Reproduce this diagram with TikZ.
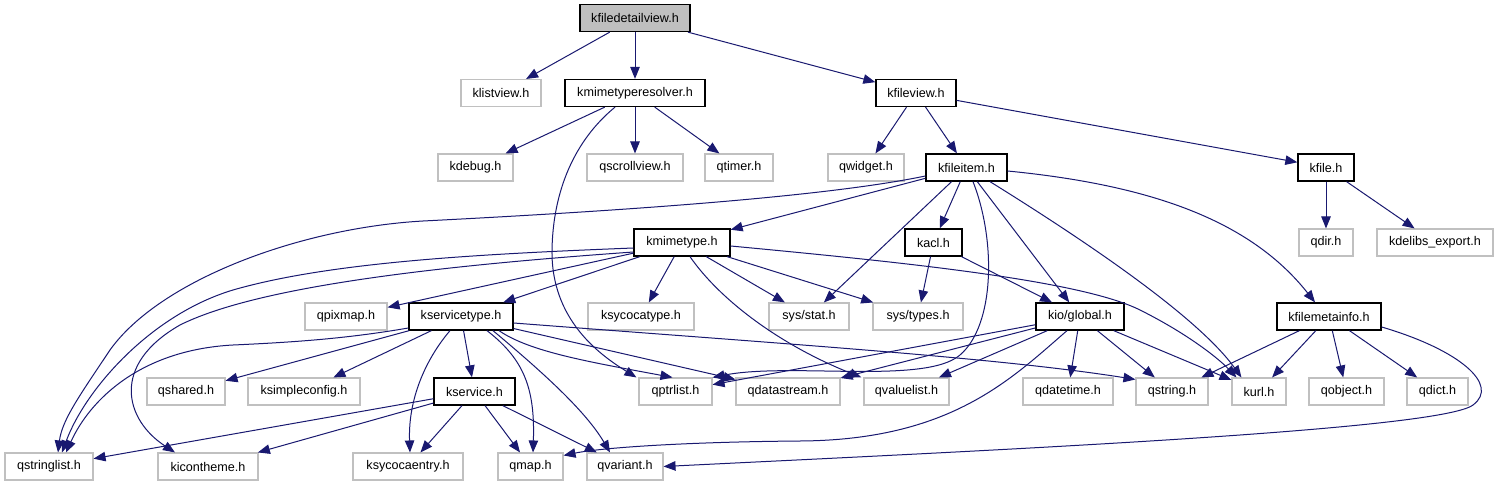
\documentclass[tikz,border=0pt]{standalone}
\usepackage{fontspec}
\setmainfont{Liberation Sans}
\usetikzlibrary{arrows.meta}
\definecolor{edgeblue}{HTML}{191970}
\definecolor{extgray}{HTML}{C0C0C0}
\definecolor{rootgray}{HTML}{BFBFBF}
\begin{document}
\begin{tikzpicture}[x=1bp,y=-1bp,
  box/.style={line width=1.1bp, minimum height=27bp, inner sep=0pt, font=\fontsize{12.6bp}{15bp}\selectfont},
  int/.style={box, draw=black, line width=1.3bp},
  ext/.style={box, draw=extgray},
  root/.style={box, draw=black, line width=1.3bp, fill=rootgray},
  edge/.style={draw=edgeblue, line width=1bp, -{Triangle[length=12bp,width=9.5bp]}}]
\useasboundingbox[fill=white] (0,0) rectangle (1497,485);
% row 0
\node[root, minimum width=110bp] (kfiledetailview) at (635,18) {kfiledetailview.h};
% row 1
\node[ext, minimum width=80bp] (klistview) at (501,93) {klistview.h};
\node[int, minimum width=140bp] (kmimetyperesolver) at (635,93) {kmimetyperesolver.h};
\node[int, minimum width=80bp] (kfileview) at (916,93) {kfileview.h};
% row 2
\node[ext, minimum width=75bp] (kdebug) at (475.5,167.5) {kdebug.h};
\node[ext, minimum width=96bp] (qscrollview) at (635,167.5) {qscrollview.h};
\node[ext, minimum width=68bp] (qtimer) at (739,167.5) {qtimer.h};
\node[ext, minimum width=76bp] (qwidget) at (866,167.5) {qwidget.h};
\node[int, minimum width=81bp] (kfileitem) at (966.5,167.5) {kfileitem.h};
\node[int, minimum width=56bp] (kfile) at (1326,167.5) {kfile.h};
% row 3
\node[int, minimum width=96bp] (kmimetype) at (682,242.5) {kmimetype.h};
\node[int, minimum width=57bp] (kacl) at (933.5,242.5) {kacl.h};
\node[ext, minimum width=54bp] (qdir) at (1326,242.5) {qdir.h};
\node[ext, minimum width=116bp] (kdelibsexport) at (1435,242.5) {kdelibs\_export.h};
% row 4
\node[ext, minimum width=82bp] (qpixmap) at (346,316.5) {qpixmap.h};
\node[int, minimum width=104bp] (kservicetype) at (461,316.5) {kservicetype.h};
\node[ext, minimum width=106bp] (ksycocatype) at (641,316.5) {ksycocatype.h};
\node[ext, minimum width=80bp] (sysstat) at (809,316.5) {sys/stat.h};
\node[ext, minimum width=90bp] (systypes) at (918,316.5) {sys/types.h};
\node[int, minimum width=88bp] (kioglobal) at (1080,316.5) {kio/global.h};
\node[int, minimum width=104bp] (kfilemetainfo) at (1329,316.5) {kfilemetainfo.h};
% row 5
\node[ext, minimum width=78bp] (qshared) at (186,391.5) {qshared.h};
\node[ext, minimum width=112bp] (ksimpleconfig) at (304,391.5) {ksimpleconfig.h};
\node[int, minimum width=81bp] (kservice) at (474.5,391.5) {kservice.h};
\node[ext, minimum width=73bp] (qptrlist) at (675.5,391.5) {qptrlist.h};
\node[ext, minimum width=104bp] (qdatastream) at (788,391.5) {qdatastream.h};
\node[ext, minimum width=85bp] (qvaluelist) at (906.5,391.5) {qvaluelist.h};
\node[ext, minimum width=90bp] (qdatetime) at (1068,391.5) {qdatetime.h};
\node[ext, minimum width=72bp] (qstring) at (1172,391.5) {qstring.h};
\node[ext, minimum width=54bp] (kurl) at (1259,391.5) {kurl.h};
\node[ext, minimum width=75bp] (qobject) at (1346.5,391.5) {qobject.h};
\node[ext, minimum width=61bp] (qdict) at (1437.5,391.5) {qdict.h};
% row 6
\node[ext, minimum width=88bp] (qstringlist) at (49,466.5) {qstringlist.h};
\node[ext, minimum width=100bp] (kicontheme) at (208,466.5) {kicontheme.h};
\node[ext, minimum width=110bp] (ksycocaentry) at (408,466.5) {ksycocaentry.h};
\node[ext, minimum width=65bp] (qmap) at (530.5,466.5) {qmap.h};
\node[ext, minimum width=76bp] (qvariant) at (625,466.5) {qvariant.h};

% straight edges
\draw[edge] (kfiledetailview) -- (klistview);
\draw[edge] (kfiledetailview) -- (kmimetyperesolver);
\draw[edge] (kfiledetailview) -- (kfileview);
\draw[edge] (kmimetyperesolver) -- (kdebug);
\draw[edge] (kmimetyperesolver) -- (qscrollview);
\draw[edge] (kmimetyperesolver) -- (qtimer);
\draw[edge] (kfileview) -- (qwidget);
\draw[edge] (kfileview) -- (kfileitem);
\draw[edge] (kfileview) -- (kfile);
\draw[edge] (kfile) -- (qdir);
\draw[edge] (kfile) -- (kdelibsexport);
\draw[edge] (kfileitem) -- (kmimetype);
\draw[edge] (kfileitem) -- (kacl);
\draw[edge] (kfileitem) -- (sysstat);
\draw[edge] (kfileitem) -- (kioglobal);
\draw[edge] (kmimetype) -- (qpixmap);
\draw[edge] (kmimetype) -- (kservicetype);
\draw[edge] (kmimetype) -- (ksycocatype);
\draw[edge] (kmimetype) -- (sysstat);
\draw[edge] (kmimetype) -- (systypes);
\draw[edge] (kacl) -- (systypes);
\draw[edge] (kacl) -- (kioglobal);
\draw[edge] (kservicetype) -- (qshared);
\draw[edge] (kservicetype) -- (ksimpleconfig);
\draw[edge] (kservicetype) -- (kservice);
\draw[edge] (kservicetype) -- (qdatastream);
\draw[edge] (kservice) -- (qstringlist);
\draw[edge] (kservice) -- (kicontheme);
\draw[edge] (kservice) -- (ksycocaentry);
\draw[edge] (kservice) -- (qmap);
\draw[edge] (kservice) -- (qvariant);
\draw[edge] (kioglobal) -- (qptrlist);
\draw[edge] (kioglobal) -- (qdatastream);
\draw[edge] (kioglobal) -- (qvaluelist);
\draw[edge] (kioglobal) -- (qdatetime);
\draw[edge] (kioglobal) -- (qstring);
\draw[edge] (kioglobal) -- (kurl);
\draw[edge] (kfilemetainfo) -- (qstring);
\draw[edge] (kfilemetainfo) -- (kurl);
\draw[edge] (kfilemetainfo) -- (qobject);
\draw[edge] (kfilemetainfo) -- (qdict);

% curved edges
\draw[edge] ([xshift=-20bp]kmimetyperesolver.south) .. controls (575,140) and (553,190) .. (552,250)
  .. controls (551,320) and (600,355) .. ([xshift=-2bp]qptrlist.north west);
\draw[edge] ([yshift=-8.5bp]kfileitem.west) .. controls (820,198) and (600,212) .. (423,221)
  .. controls (300,228) and (160,280) .. (110,350)
  .. controls (80,395) and (62,420) .. ([xshift=9bp]qstringlist.north);
\draw[edge] ([yshift=-5.5bp]kmimetype.west) .. controls (480,254) and (330,262) .. (233,290)
  .. controls (150,315) and (85,390) .. ([xshift=13bp]qstringlist.north);
\draw[edge] ([yshift=-9.5bp]kmimetype.west) .. controls (450,265) and (260,285) .. (180,325)
  .. controls (110,365) and (125,420) .. ([xshift=-33bp]kicontheme.north);
\draw[edge] ([yshift=-11.5bp]kservicetype.west) .. controls (350,338) and (300,342) .. (233,345)
  .. controls (140,350) and (90,400) .. ([xshift=17bp]qstringlist.north);
\draw[edge] ([xshift=-11bp]kservicetype.south) .. controls (425,360) and (408,400) .. ([xshift=2bp]ksycocaentry.north);
\draw[edge] ([xshift=26bp]kservicetype.south) .. controls (525,360) and (535,390) .. ([xshift=2.5bp]qmap.north);
\draw[edge] ([xshift=32bp]kservicetype.south) .. controls (540,370) and (585,410) .. ([xshift=-15bp]qvariant.north);
\draw[edge] ([xshift=38bp]kservicetype.south) .. controls (530,352) and (590,362) .. ([xshift=-3bp]qptrlist.north);
\draw[edge] ([yshift=-6.5bp]kservicetype.east) .. controls (800,345) and (1000,358) .. ([yshift=-2bp]qstring.north west);
\draw[edge] ([xshift=8bp]kmimetype.south) .. controls (720,300) and (780,345) .. ([xshift=-2bp]qvaluelist.north west);
\draw[edge] ([yshift=-3.5bp]kmimetype.east) .. controls (900,262) and (1080,280) .. (1140,310)
  .. controls (1190,335) and (1220,360) .. ([xshift=5bp]kurl.north west);
\draw[edge] ([xshift=23.5bp]kfileitem.south) .. controls (1100,250) and (1200,320) .. ([xshift=10bp]kurl.north west);
\draw[edge] ([yshift=-3.5bp]kfileitem.east) .. controls (1150,185) and (1250,220) .. ([xshift=-14bp]kfilemetainfo.north);
\draw[edge] ([xshift=6.5bp]kfileitem.south) .. controls (996,240) and (995,325) .. (960,355)
  .. controls (925,385) and (790,362) .. (qptrlist.north east);
\draw[edge] ([xshift=-13bp]kioglobal.south) .. controls (1010,380) and (950,440) .. (800,441)
  .. controls (680,442) and (600,448) .. ([yshift=-3bp]qmap.north east);
\draw[edge] ([yshift=-10.5bp]kfilemetainfo.east) .. controls (1460,350) and (1500,385) .. (1473,405)
  .. controls (1440,430) and (1000,450) .. (qvariant.east);
\end{tikzpicture}
\end{document}
